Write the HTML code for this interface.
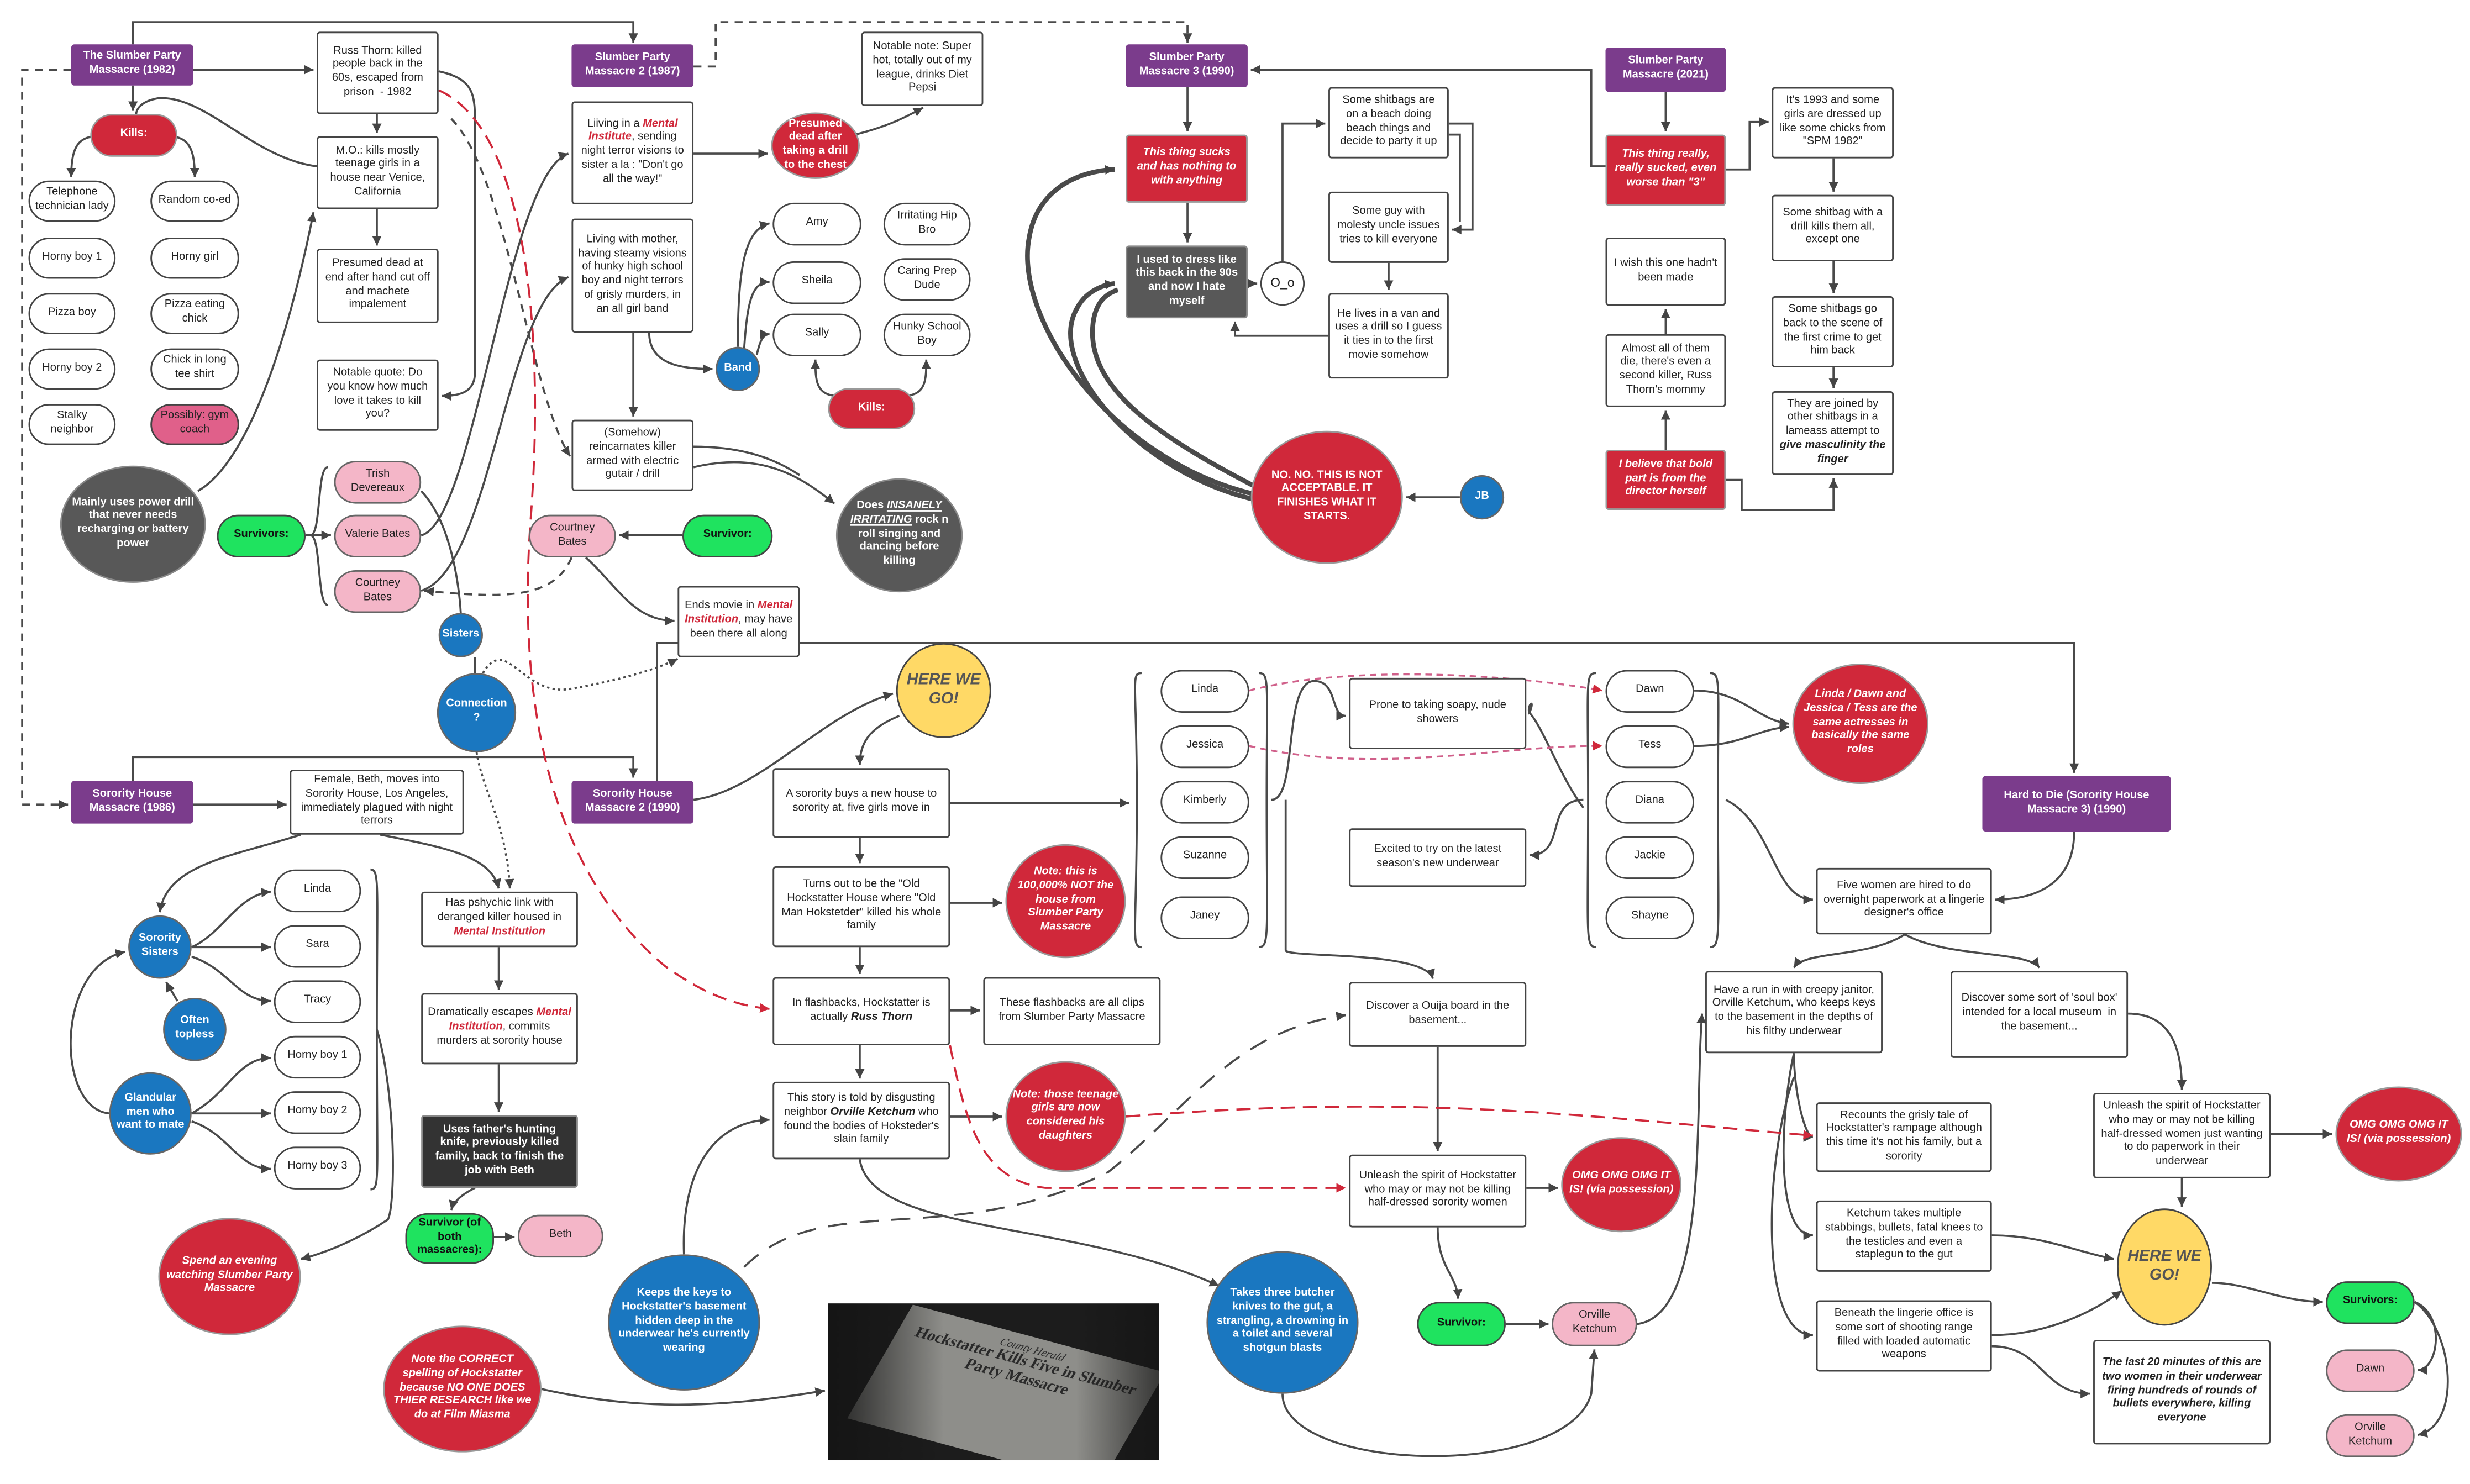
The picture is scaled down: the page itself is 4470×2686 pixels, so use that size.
<!DOCTYPE html>
<html><head><meta charset="utf-8">
<style>
html,body{margin:0;padding:0;background:#fff;}
body{width:4470px;height:2686px;overflow:hidden;position:relative;}
#c{position:absolute;left:0;top:0;width:1560px;height:937px;transform:scale(2.8654,2.8666);transform-origin:0 0;}
svg{position:absolute;left:0;top:0;}
.n{position:absolute;display:flex;align-items:center;justify-content:center;text-align:center;font-family:"Liberation Sans",sans-serif;font-size:7px;line-height:1.25;border:1px solid #444;background:#fff;border-radius:2px;box-sizing:border-box;padding:2px 3px;color:#222;}
.p{border-radius:14px;}
.pu{background:#7b3c8c;color:#fff;font-weight:bold;border:none;}
.r{background:#d0283a;color:#fff;font-weight:bold;font-style:italic;border:1px solid #999;}
.e{border-radius:50%;}
.d{background:#585858;color:#fff;font-weight:bold;border:1px solid #888;}
.b{background:#1a77c0;color:#fff;font-weight:bold;border:1px solid #666;}
.g{background:#1fe35f;color:#111;font-weight:bold;}
.k{background:#f4b6c8;color:#222;border-color:#666;}
.y{background:#ffd966;color:#555;font-weight:bold;font-style:italic;font-size:10px;}
.m{color:#d0283a;font-weight:bold;font-style:italic;}
</style></head><body><div id="c">
<svg width="1560" height="937" viewBox="0 0 1560 937">
<defs><marker id="a" markerWidth="8" markerHeight="8" refX="6" refY="3" orient="auto" markerUnits="userSpaceOnUse"><path d="M0,0 L6,3 L0,6 z" fill="#444"/></marker>
<marker id="ar" markerWidth="8" markerHeight="8" refX="6" refY="3" orient="auto" markerUnits="userSpaceOnUse"><path d="M0,0 L6,3 L0,6 z" fill="#d0283a"/></marker></defs>
<g fill="none" stroke="#4a4a4a" stroke-width="1.3">
<path d="M84,28 V14 H400 V27" marker-end="url(#a)"/>
<path d="M438,42 H452 V14 H750 V27" stroke-dasharray="5,4" marker-end="url(#a)"/>
<path d="M1014,105 H1005 V44 H790" marker-end="url(#a)"/>
<path d="M122,44 H198" marker-end="url(#a)"/>
<path d="M45,44 H14 V508 H43" stroke-dasharray="5,4" marker-end="url(#a)"/>
<path d="M238,72 V84" marker-end="url(#a)"/>
<path d="M238,132 V155" marker-end="url(#a)"/>
<path d="M277,45 C300,50 300,60 300,80 V235 C300,248 290,250 279,250" marker-end="url(#a)"/>
<path d="M84,54 V70" marker-end="url(#a)"/>
<path d="M200,105 C160,100 130,60 100,62 C88,64 86,70 86,72"/>
<path d="M62,86 C48,86 45,95 45,112" marker-end="url(#a)"/>
<path d="M106,86 C120,86 123,95 123,112" marker-end="url(#a)"/>
<path d="M125,310 C160,290 185,200 198,134" marker-end="url(#a)"/>
<path d="M193,338 H209" marker-end="url(#a)"/>
<path d="M207,295 C200,295 203,338 196,338 C203,338 200,382 207,382"/>
<path d="M266,338 C300,330 320,110 359,97" marker-end="url(#a)"/>
<path d="M266,373 C310,360 320,190 359,175" marker-end="url(#a)"/>
<path d="M266,310 C285,330 290,370 291,387"/>
<path d="M438,97 H485" marker-end="url(#a)"/>
<path d="M400,210 V263" marker-end="url(#a)"/>
<path d="M410,210 C410,230 430,233 450,233" marker-end="url(#a)"/>
<path d="M466,219 C466,170 470,145 486,141" marker-end="url(#a)"/>
<path d="M470,220 C472,190 475,178 486,178" marker-end="url(#a)"/>
<path d="M478,224 C480,215 482,211 486,211" marker-end="url(#a)"/>
<path d="M530,250 C515,250 515,240 515,227" marker-end="url(#a)"/>
<path d="M570,250 C585,250 585,240 585,227" marker-end="url(#a)"/>
<path d="M540,85 C560,80 570,75 583,68" marker-end="url(#a)"/>
<path d="M438,295 C480,285 505,300 527,318" marker-end="url(#a)"/>
<path d="M438,282 C470,282 490,290 505,300"/>
<path d="M285,75 C320,110 335,250 360,288" stroke-dasharray="5,4" marker-end="url(#a)"/>
<path d="M361,352 C350,378 320,378 268,373" stroke-dasharray="5,4" marker-end="url(#a)"/>
<path d="M370,352 C390,370 400,392 426,392" marker-end="url(#a)"/>
<path d="M431,338 H391" marker-end="url(#a)"/>
<path d="M305,425 C320,400 330,440 360,435 C400,428 420,420 428,416" stroke-dasharray="1.5,2" marker-end="url(#a)"/>
<path d="M301,475 C305,500 320,520 322,561" stroke-dasharray="1.5,2" marker-end="url(#a)"/>
<path d="M300,425 V415"/>
<path d="M84,493 V478 H400 V491" marker-end="url(#a)"/>
<path d="M122,508 H181" marker-end="url(#a)"/>
<path d="M190,527 C150,540 105,545 101,576" marker-end="url(#a)"/>
<path d="M240,527 C280,535 310,540 315,561" marker-end="url(#a)"/>
<path d="M121,598 C140,590 150,565 171,563" marker-end="url(#a)"/>
<path d="M121,598 H171" marker-end="url(#a)"/>
<path d="M121,604 C145,612 150,632 171,632" marker-end="url(#a)"/>
<path d="M112,632 C108,625 106,622 105,620" marker-end="url(#a)"/>
<path d="M69,703 C35,700 35,610 79,601" marker-end="url(#a)"/>
<path d="M121,703 C145,690 150,668 171,668" marker-end="url(#a)"/>
<path d="M121,703 H171" marker-end="url(#a)"/>
<path d="M121,708 C145,716 150,738 171,738" marker-end="url(#a)"/>
<path d="M234,549 C240,549 238,560 238,650 C238,745 240,751 234,751"/>
<path d="M238,650 C250,690 250,760 245,770 C230,780 210,790 190,795" marker-end="url(#a)"/>
<path d="M315,598 V625" marker-end="url(#a)"/>
<path d="M315,672 V702" marker-end="url(#a)"/>
<path d="M300,750 C290,755 286,760 285,764" marker-end="url(#a)"/>
<path d="M312,781 H325" marker-end="url(#a)"/>
<path d="M415,493 V406 H1310 V488" marker-end="url(#a)"/>
<path d="M438,505 C480,500 520,450 564,438" marker-end="url(#a)"/>
<path d="M568,452 C548,460 543,470 543,483" marker-end="url(#a)"/>
<path d="M600,507 H713" marker-end="url(#a)"/>
<path d="M543,529 V545" marker-end="url(#a)"/>
<path d="M543,598 V615" marker-end="url(#a)"/>
<path d="M543,660 V681" marker-end="url(#a)"/>
<path d="M600,570 H633" marker-end="url(#a)"/>
<path d="M600,638 H619" marker-end="url(#a)"/>
<path d="M600,705 H633" marker-end="url(#a)"/>
<path d="M432,792 C430,740 450,708 486,707" marker-end="url(#a)"/>
<path d="M342,877 C400,890 450,890 521,878" marker-end="url(#a)"/>
<path d="M543,732 C550,780 680,770 770,812" marker-end="url(#a)"/>
<path d="M810,880 C810,930 990,935 1005,880 L1007,852" marker-end="url(#a)"/>
<path d="M470,800 C520,750 600,790 700,740 C750,700 780,650 850,641" stroke-dasharray="12,8" marker-end="url(#a)"/>
<path d="M721,425 C714,425 718,430 718,505 C718,590 714,598 721,598"/>
<path d="M795,425 C802,425 800,430 800,505 C800,590 802,598 795,598"/>
<path d="M803,505 C820,505 810,430 830,430 C845,430 840,452 850,452" marker-end="url(#a)"/>
<path d="M812,505 V600 C812,605 900,600 905,618" marker-end="url(#a)"/>
<path d="M1008,425 C1001,425 1003,430 1003,505 C1003,590 1001,598 1008,598"/>
<path d="M1080,425 C1087,425 1085,430 1085,505 C1085,590 1087,598 1080,598"/>
<path d="M1000,505 C975,505 990,540 966,540" marker-end="url(#a)"/>
<path d="M1000,510 C985,490 975,460 966,450 C970,440 964,445 966,451"/>
<path d="M1070,436 C1100,436 1110,455 1130,457" marker-end="url(#a)"/>
<path d="M1070,471 C1100,471 1110,460 1130,459" marker-end="url(#a)"/>
<path d="M908,661 V727" marker-end="url(#a)"/>
<path d="M964,750 H984" marker-end="url(#a)"/>
<path d="M908,775 C908,800 920,805 921,820" marker-end="url(#a)"/>
<path d="M951,836 H978" marker-end="url(#a)"/>
<path d="M1034,836 C1080,830 1070,700 1075,640" marker-end="url(#a)"/>
<path d="M1310,525 C1310,555 1290,568 1260,568" marker-end="url(#a)"/>
<path d="M1090,505 C1120,520 1120,568 1145,568" marker-end="url(#a)"/>
<path d="M1203,590 C1180,605 1140,600 1133,611" marker-end="url(#a)"/>
<path d="M1203,590 C1230,605 1280,600 1288,611" marker-end="url(#a)"/>
<path d="M1133,665 C1133,690 1140,718 1145,718" marker-end="url(#a)"/>
<path d="M1133,665 C1125,700 1120,780 1145,780" marker-end="url(#a)"/>
<path d="M1133,680 C1115,730 1110,843 1145,843" marker-end="url(#a)"/>
<path d="M1344,640 C1370,640 1378,660 1378,688" marker-end="url(#a)"/>
<path d="M1434,716 H1473" marker-end="url(#a)"/>
<path d="M1258,780 C1290,780 1310,790 1335,795" marker-end="url(#a)"/>
<path d="M1258,843 C1290,843 1320,830 1340,815" marker-end="url(#a)"/>
<path d="M1378,744 V762" marker-end="url(#a)"/>
<path d="M1258,850 C1290,850 1290,880 1320,880" marker-end="url(#a)"/>
<path d="M1397,810 C1420,810 1440,822 1467,822" marker-end="url(#a)"/>
<path d="M1525,822 C1545,830 1540,865 1527,865" marker-end="url(#a)"/>
<path d="M1525,822 C1550,840 1555,900 1527,906" marker-end="url(#a)"/>
<path d="M750,55 V83" marker-end="url(#a)"/>
<path d="M750,128 V153" marker-end="url(#a)"/>
<path d="M788,179 H794" marker-end="url(#a)"/>
<path d="M810,165 V78 H837" marker-end="url(#a)"/>
<path d="M915,78 H930 V145 H917" marker-end="url(#a)"/>
<path d="M915,85 H922 V140"/>
<path d="M877,166 V183" marker-end="url(#a)"/>
<path d="M839,212 H780 V203" marker-end="url(#a)"/>
<path d="M922,314 H888" marker-end="url(#a)"/>
<g stroke-width="3">
<path d="M792,312 C700,290 640,200 650,150 C655,120 680,108 704,107" marker-end="url(#a)"/>
<path d="M795,316 C720,300 660,230 680,195 C685,185 695,180 704,179" marker-end="url(#a)"/>
<path d="M798,310 C740,280 690,250 690,210 C690,190 700,185 706,183"/>
</g>
<path d="M1052,58 V83" marker-end="url(#a)"/>
<path d="M1090,107 H1105 V77 H1117" marker-end="url(#a)"/>
<path d="M1158,100 V121" marker-end="url(#a)"/>
<path d="M1158,165 V185" marker-end="url(#a)"/>
<path d="M1158,232 V245" marker-end="url(#a)"/>
<path d="M1052,284 V259" marker-end="url(#a)"/>
<path d="M1052,211 V195" marker-end="url(#a)"/>
<path d="M1090,303 H1100 V322 H1158 V302" marker-end="url(#a)"/>
</g>
<g fill="none" stroke="#d0283a" stroke-width="1.3" stroke-dasharray="9,5">
<path d="M277,57 C330,80 345,200 335,330 C325,470 360,560 420,610 C445,628 465,635 486,637" marker-end="url(#ar)"/>
<path d="M711,705 C900,690 1000,705 1145,717" marker-end="url(#ar)"/>
<path d="M600,660 C610,710 620,745 660,750 H850" marker-end="url(#ar)"/>
</g>
<g fill="none" stroke="#d0608a" stroke-width="1.2" stroke-dasharray="4,3">
<path d="M789,436 C850,420 950,425 1012,436" marker-end="url(#ar)"/>
<path d="M789,471 C870,490 950,470 1012,471" marker-end="url(#ar)"/>
</g>
</svg>

<div class="n pu" style="left:45px;top:28px;width:77px;height:26px">The Slumber Party Massacre (1982)</div>
<div class="n pu" style="left:361px;top:28px;width:77px;height:27px">Slumber Party Massacre 2 (1987)</div>
<div class="n pu" style="left:711px;top:28px;width:77px;height:27px">Slumber Party Massacre 3 (1990)</div>
<div class="n pu" style="left:1014px;top:30px;width:76px;height:28px">Slumber Party Massacre (2021)</div>
<div class="n pu" style="left:45px;top:493px;width:77px;height:27px">Sorority House Massacre (1986)</div>
<div class="n pu" style="left:361px;top:493px;width:77px;height:27px">Sorority House Massacre 2 (1990)</div>
<div class="n pu" style="left:1252px;top:490px;width:119px;height:35px">Hard to Die (Sorority House Massacre 3) (1990)</div>

<div class="n" style="left:200px;top:20px;width:77px;height:52px">Russ Thorn: killed people back in the 60s, escaped from prison&nbsp; - 1982</div>
<div class="n" style="left:200px;top:86px;width:77px;height:46px">M.O.: kills mostly teenage girls in a house near Venice, California</div>
<div class="n" style="left:200px;top:157px;width:77px;height:47px">Presumed dead at end after hand cut off and machete impalement</div>
<div class="n" style="left:200px;top:227px;width:77px;height:45px">Notable quote: Do you know how much love it takes to kill you?</div>
<div class="n r p" style="left:57px;top:72px;width:55px;height:27px;font-style:normal">Kills:</div>
<div class="n p" style="left:18px;top:114px;width:55px;height:26px">Telephone technician lady</div>
<div class="n p" style="left:95px;top:114px;width:56px;height:26px">Random co-ed</div>
<div class="n p" style="left:18px;top:150px;width:55px;height:26px">Horny boy 1</div>
<div class="n p" style="left:95px;top:150px;width:56px;height:26px">Horny girl</div>
<div class="n p" style="left:18px;top:185px;width:55px;height:26px">Pizza boy</div>
<div class="n p" style="left:95px;top:185px;width:56px;height:26px">Pizza eating chick</div>
<div class="n p" style="left:18px;top:220px;width:55px;height:26px">Horny boy 2</div>
<div class="n p" style="left:95px;top:220px;width:56px;height:26px">Chick in long tee shirt</div>
<div class="n p" style="left:18px;top:255px;width:55px;height:26px">Stalky neighbor</div>
<div class="n p" style="left:95px;top:255px;width:56px;height:26px;background:#e0608a">Possibly: gym coach</div>
<div class="n d e" style="left:38px;top:294px;width:92px;height:74px">Mainly uses power drill that never needs recharging or battery power</div>
<div class="n g p" style="left:137px;top:325px;width:56px;height:27px">Survivors:</div>
<div class="n k p" style="left:211px;top:291px;width:55px;height:27px">Trish Devereaux</div>
<div class="n k p" style="left:211px;top:325px;width:55px;height:27px">Valerie Bates</div>
<div class="n k p" style="left:211px;top:360px;width:55px;height:27px">Courtney Bates</div>
<div class="n b e" style="left:277px;top:387px;width:28px;height:28px">Sisters</div>
<div class="n b e" style="left:276px;top:425px;width:50px;height:50px">Connection ?</div>

<div class="n" style="left:361px;top:64px;width:77px;height:65px"><span>Liiving in a <span class="m">Mental Institute</span>, sending night terror visions to sister a la : "Don't go all the way!"</span></div>
<div class="n" style="left:361px;top:138px;width:77px;height:72px">Living with mother, having steamy visions of hunky high school boy and night terrors of grisly murders, in an all girl band</div>
<div class="n" style="left:361px;top:265px;width:77px;height:45px">(Somehow) reincarnates killer armed with electric gutair / drill</div>
<div class="n r e" style="left:487px;top:71px;width:56px;height:42px;font-style:normal">Presumed dead after taking a drill to the chest</div>
<div class="n" style="left:544px;top:20px;width:77px;height:47px">Notable note: Super hot, totally out of my league, drinks Diet Pepsi</div>
<div class="n p" style="left:488px;top:128px;width:56px;height:27px">Amy</div>
<div class="n p" style="left:488px;top:165px;width:56px;height:27px">Sheila</div>
<div class="n p" style="left:488px;top:198px;width:56px;height:27px">Sally</div>
<div class="n p" style="left:558px;top:128px;width:55px;height:27px">Irritating Hip Bro</div>
<div class="n p" style="left:558px;top:163px;width:55px;height:27px">Caring Prep Dude</div>
<div class="n p" style="left:558px;top:198px;width:55px;height:27px">Hunky School Boy</div>
<div class="n b e" style="left:452px;top:219px;width:28px;height:28px">Band</div>
<div class="n r p" style="left:523px;top:245px;width:55px;height:26px;font-style:normal">Kills:</div>
<div class="n d e" style="left:528px;top:302px;width:80px;height:72px"><span>Does <u><i>INSANELY IRRITATING</i></u> rock n roll singing and dancing before killing</span></div>
<div class="n k p" style="left:334px;top:325px;width:55px;height:27px">Courtney Bates</div>
<div class="n g p" style="left:431px;top:325px;width:57px;height:27px">Survivor:</div>
<div class="n" style="left:428px;top:370px;width:77px;height:45px"><span>Ends movie in <span class="m">Mental Institution</span>, may have been there all along</span></div>

<div class="n r" style="left:711px;top:85px;width:77px;height:43px">This thing sucks and has nothing to with anything</div>
<div class="n d" style="left:711px;top:155px;width:77px;height:46px">I used to dress like this back in the 90s and now I hate myself</div>
<div class="n e" style="left:796px;top:165px;width:28px;height:28px;font-size:8px">O_o</div>
<div class="n" style="left:839px;top:55px;width:76px;height:45px">Some shitbags are on a beach doing beach things and decide to party it up</div>
<div class="n" style="left:839px;top:121px;width:76px;height:45px">Some guy with molesty uncle issues tries to kill everyone</div>
<div class="n" style="left:839px;top:185px;width:76px;height:54px">He lives in a van and uses a drill so I guess it ties in to the first movie somehow</div>
<div class="n r e" style="left:790px;top:272px;width:96px;height:84px;font-style:normal">NO. NO. THIS IS NOT ACCEPTABLE. IT FINISHES WHAT IT STARTS.</div>
<div class="n b e" style="left:922px;top:300px;width:28px;height:28px">JB</div>

<div class="n r" style="left:1014px;top:85px;width:76px;height:45px">This thing really, really sucked, even worse than "3"</div>
<div class="n" style="left:1014px;top:150px;width:76px;height:43px">I wish this one hadn't been made</div>
<div class="n" style="left:1014px;top:211px;width:76px;height:46px">Almost all of them die, there's even a second killer, Russ Thorn's mommy</div>
<div class="n r" style="left:1014px;top:284px;width:76px;height:38px">I believe that bold part is from the director herself</div>
<div class="n" style="left:1119px;top:55px;width:77px;height:45px">It's 1993 and some girls are dressed up like some chicks from "SPM 1982"</div>
<div class="n" style="left:1119px;top:123px;width:77px;height:42px">Some shitbag with a drill kills them all, except one</div>
<div class="n" style="left:1119px;top:187px;width:77px;height:45px">Some shitbags go back to the scene of the first crime to get him back</div>
<div class="n" style="left:1119px;top:247px;width:77px;height:53px"><span>They are joined by other shitbags in a lameass attempt to <b><i>give masculinity the finger</i></b></span></div>

<div class="n" style="left:183px;top:486px;width:110px;height:41px">Female, Beth, moves into Sorority House, Los Angeles, immediately plagued with night terrors</div>
<div class="n b e" style="left:81px;top:578px;width:40px;height:40px">Sorority Sisters</div>
<div class="n b e" style="left:103px;top:630px;width:40px;height:40px">Often topless</div>
<div class="n b e" style="left:69px;top:677px;width:52px;height:52px">Glandular men who want to mate</div>
<div class="n p" style="left:173px;top:549px;width:55px;height:27px">Linda</div>
<div class="n p" style="left:173px;top:584px;width:55px;height:27px">Sara</div>
<div class="n p" style="left:173px;top:619px;width:55px;height:27px">Tracy</div>
<div class="n p" style="left:173px;top:654px;width:55px;height:27px">Horny boy 1</div>
<div class="n p" style="left:173px;top:689px;width:55px;height:27px">Horny boy 2</div>
<div class="n p" style="left:173px;top:724px;width:55px;height:27px">Horny boy 3</div>
<div class="n" style="left:266px;top:563px;width:99px;height:35px"><span>Has pshychic link with deranged killer housed in <span class="m">Mental Institution</span></span></div>
<div class="n" style="left:266px;top:627px;width:99px;height:45px"><span>Dramatically escapes <span class="m">Mental Institution</span>, commits murders at sorority house</span></div>
<div class="n d" style="left:266px;top:704px;width:99px;height:46px;background:#333">Uses father's hunting knife, previously killed family, back to finish the job with Beth</div>
<div class="n g p" style="left:256px;top:766px;width:56px;height:32px">Survivor (of both massacres):</div>
<div class="n k p" style="left:327px;top:767px;width:54px;height:27px">Beth</div>
<div class="n r e" style="left:100px;top:769px;width:90px;height:74px">Spend an evening watching Slumber Party Massacre</div>

<div class="n y e" style="left:566px;top:406px;width:60px;height:60px">HERE WE GO!</div>
<div class="n" style="left:488px;top:485px;width:112px;height:44px">A sorority buys a new house to sorority at, five girls move in</div>
<div class="n" style="left:488px;top:547px;width:112px;height:51px">Turns out to be the "Old Hockstatter House where "Old Man Hokstetder" killed his whole family</div>
<div class="n r e" style="left:635px;top:533px;width:76px;height:72px">Note: this is 100,000% NOT the house from Slumber Party Massacre</div>
<div class="n" style="left:488px;top:617px;width:112px;height:43px"><span>In flashbacks, Hockstatter is actually <b><i>Russ Thorn</i></b></span></div>
<div class="n" style="left:621px;top:617px;width:112px;height:43px">These flashbacks are all clips from Slumber Party Massacre</div>
<div class="n" style="left:488px;top:683px;width:112px;height:49px"><span>This story is told by disgusting neighbor <b><i>Orville Ketchum</i></b> who found the bodies of Hoksteder's slain family</span></div>
<div class="n r e" style="left:635px;top:670px;width:76px;height:70px">Note: those teenage girls are now considered his daughters</div>
<div class="n b e" style="left:384px;top:792px;width:96px;height:86px">Keeps the keys to Hockstatter's basement hidden deep in the underwear he's currently wearing</div>
<div class="n r e" style="left:242px;top:837px;width:100px;height:80px">Note the CORRECT spelling of Hockstatter because NO ONE DOES THIER RESEARCH like we do at Film Miasma</div>
<div style="position:absolute;left:523px;top:823px;width:209px;height:99px;background:#1c1c1c;overflow:hidden">
 <div style="position:absolute;left:30px;top:18px;width:165px;height:75px;background:#8e8e8a;transform:rotate(15deg) skewX(-15deg);font-family:'Liberation Serif',serif;color:#2a2a2a;text-align:center;font-size:10px;line-height:1.05;padding-top:5px;">
 <div style="font-size:7px;font-style:italic">County Herald</div>
 <div style="font-weight:bold">Hockstatter Kills Five in Slumber Party Massacre</div></div>
 <div style="position:absolute;left:0;top:0;width:209px;height:99px;background:linear-gradient(90deg,rgba(20,20,20,0.9),rgba(0,0,0,0) 35%,rgba(0,0,0,0) 75%,rgba(20,20,20,0.7))"></div>
</div>
<div class="n b e" style="left:762px;top:790px;width:96px;height:90px">Takes three butcher knives to the gut, a strangling, a drowning in a toilet and several shotgun blasts</div>
<div class="n p" style="left:733px;top:423px;width:56px;height:27px">Linda</div>
<div class="n p" style="left:733px;top:458px;width:56px;height:27px">Jessica</div>
<div class="n p" style="left:733px;top:493px;width:56px;height:27px">Kimberly</div>
<div class="n p" style="left:733px;top:528px;width:56px;height:27px">Suzanne</div>
<div class="n p" style="left:733px;top:566px;width:56px;height:27px">Janey</div>
<div class="n" style="left:852px;top:428px;width:112px;height:45px">Prone to taking soapy, nude showers</div>
<div class="n" style="left:852px;top:523px;width:112px;height:37px">Excited to try on the latest season's new underwear</div>
<div class="n p" style="left:1014px;top:423px;width:56px;height:27px">Dawn</div>
<div class="n p" style="left:1014px;top:458px;width:56px;height:27px">Tess</div>
<div class="n p" style="left:1014px;top:493px;width:56px;height:27px">Diana</div>
<div class="n p" style="left:1014px;top:528px;width:56px;height:27px">Jackie</div>
<div class="n p" style="left:1014px;top:566px;width:56px;height:27px">Shayne</div>
<div class="n r e" style="left:1132px;top:419px;width:86px;height:76px">Linda / Dawn and Jessica / Tess are the same actresses in basically the same roles</div>
<div class="n" style="left:852px;top:620px;width:112px;height:41px">Discover a Ouija board in the basement...</div>
<div class="n" style="left:852px;top:729px;width:112px;height:46px">Unleash the spirit of Hockstatter who may or may not be killing half-dressed sorority women</div>
<div class="n r e" style="left:986px;top:718px;width:76px;height:60px">OMG OMG OMG IT IS! (via possession)</div>
<div class="n g p" style="left:895px;top:822px;width:56px;height:28px">Survivor:</div>
<div class="n k p" style="left:980px;top:822px;width:54px;height:28px">Orville Ketchum</div>

<div class="n" style="left:1147px;top:548px;width:111px;height:42px">Five women are hired to do overnight paperwork at a lingerie designer's office</div>
<div class="n" style="left:1077px;top:613px;width:112px;height:52px">Have a run in with creepy janitor, Orville Ketchum, who keeps keys to the basement in the depths of his filthy underwear</div>
<div class="n" style="left:1232px;top:613px;width:112px;height:55px">Discover some sort of 'soul box' intended for a local museum&nbsp; in the basement...</div>
<div class="n" style="left:1147px;top:696px;width:111px;height:44px">Recounts the grisly tale of Hockstatter's rampage although this time it's not his family, but a sorority</div>
<div class="n" style="left:1147px;top:758px;width:111px;height:45px">Ketchum takes multiple stabbings, bullets, fatal knees to the testicles and even a staplegun to the gut</div>
<div class="n" style="left:1147px;top:821px;width:111px;height:45px">Beneath the lingerie office is some sort of shooting range filled with loaded automatic weapons</div>
<div class="n" style="left:1322px;top:690px;width:112px;height:54px">Unleash the spirit of Hockstatter who may or may not be killing half-dressed women just wanting to do paperwork in their underwear</div>
<div class="n r e" style="left:1475px;top:686px;width:80px;height:60px">OMG OMG OMG IT IS! (via possession)</div>
<div class="n y e" style="left:1337px;top:763px;width:60px;height:74px">HERE WE GO!</div>
<div class="n" style="left:1322px;top:846px;width:112px;height:66px;font-weight:bold;font-style:italic">The last 20 minutes of this are two women in their underwear firing hundreds of rounds of bullets everywhere, killing everyone</div>
<div class="n g p" style="left:1469px;top:809px;width:56px;height:27px">Survivors:</div>
<div class="n k p" style="left:1469px;top:852px;width:56px;height:27px">Dawn</div>
<div class="n k p" style="left:1469px;top:893px;width:56px;height:27px">Orville Ketchum</div>
</div></body></html>
